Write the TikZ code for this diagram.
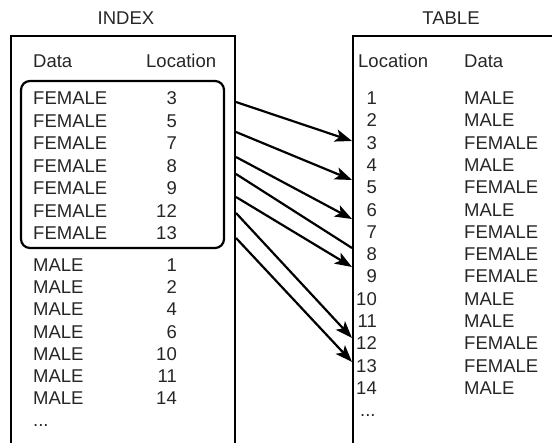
\documentclass[tikz,border=0pt]{standalone}
\usepackage{fontspec}
\setmainfont{Liberation Sans}
\usetikzlibrary{arrows.meta}
\begin{document}
\begin{tikzpicture}[x=1pt,y=-1pt,
  txt/.style={inner sep=0pt, font=\fontsize{18.5}{22}\selectfont, text=black!85},
  lt/.style={txt, anchor=base west},
  rt/.style={txt, anchor=base east},
  ct/.style={txt, anchor=base},
  box/.style={line width=2.6pt},
  conn/.style={line width=2.2pt, -{Stealth[length=17pt,width=12.5pt,inset=4pt]}},
  plain/.style={line width=2.2pt},
]
\useasboundingbox (0,0) rectangle (552,443);
\def\bo{6.6}
% titles
\node[ct] (tindex) at (126,18+\bo) {INDEX};
\node[ct] (ttable) at (451,18+\bo) {TABLE};
% boxes
\draw[box] (11,443) -- (11,36) -- (235,36) -- (235,443);
\draw[box] (353,443) -- (353,36) -- (553,36);
\draw[line width=2.2pt, rounded corners=9pt] (21,81) rectangle (224,248);
% index headers
\node[lt] (ihd) at (33,61+\bo) {Data};
\node[lt] (ihl) at (146,61+\bo) {Location};
% female rows
\foreach \n [count=\i from 0] in {3,5,7,8,9,12,13}{
  \node[lt] (ifd\i) at (33,98+22.5*\i+\bo) {FEMALE};
  \node[rt] (ifl\i) at (177,98+22.5*\i+\bo) {\n};
}
% male rows
\foreach \n [count=\i from 0] in {1,2,4,6,10,11,14}{
  \node[lt] (imd\i) at (33,265+22.2*\i+\bo) {MALE};
  \node[rt] (iml\i) at (177,265+22.2*\i+\bo) {\n};
}
\node[lt] (idots) at (33,265+22.2*7+\bo) {...};
% table headers
\node[lt] (thl) at (358,61+\bo) {Location};
\node[lt] (thd) at (464,61+\bo) {Data};
\foreach \d [count=\i] in {MALE,MALE,FEMALE,MALE,FEMALE,MALE,FEMALE,FEMALE,FEMALE,MALE,MALE,FEMALE,FEMALE,MALE}{
  \node[rt] (tl\i) at (377,98+22.3*\i-22.3+\bo) {\i};
  \node[lt] (td\i) at (464,98+22.3*\i-22.3+\bo) {\d};
}
\node[lt] (tdots) at (360,98+22.3*14+\bo) {...};
% connector end points
\coordinate (s1) at (236,102); \coordinate (e1) at (352,141);
\coordinate (s2) at (236,132); \coordinate (e2) at (352,180);
\coordinate (s3) at (236,157); \coordinate (e3) at (352,219);
\coordinate (s4) at (236,174); \coordinate (e4) at (352,248);
\coordinate (s5) at (236,197); \coordinate (e5) at (352,267);
\coordinate (s6) at (236,213); \coordinate (e6) at (352,338);
\coordinate (s7) at (236,238); \coordinate (e7) at (352,362);
\draw[conn] (s1) -- (e1);
\draw[conn] (s2) -- (e2);
\draw[conn] (s3) -- (e3);
\draw[plain] (s4) -- (e4);
\draw[conn] (s5) -- (e5);
\draw[conn] (s6) -- (e6);
\draw[conn] (s7) -- (e7);
\end{tikzpicture}
\end{document}
